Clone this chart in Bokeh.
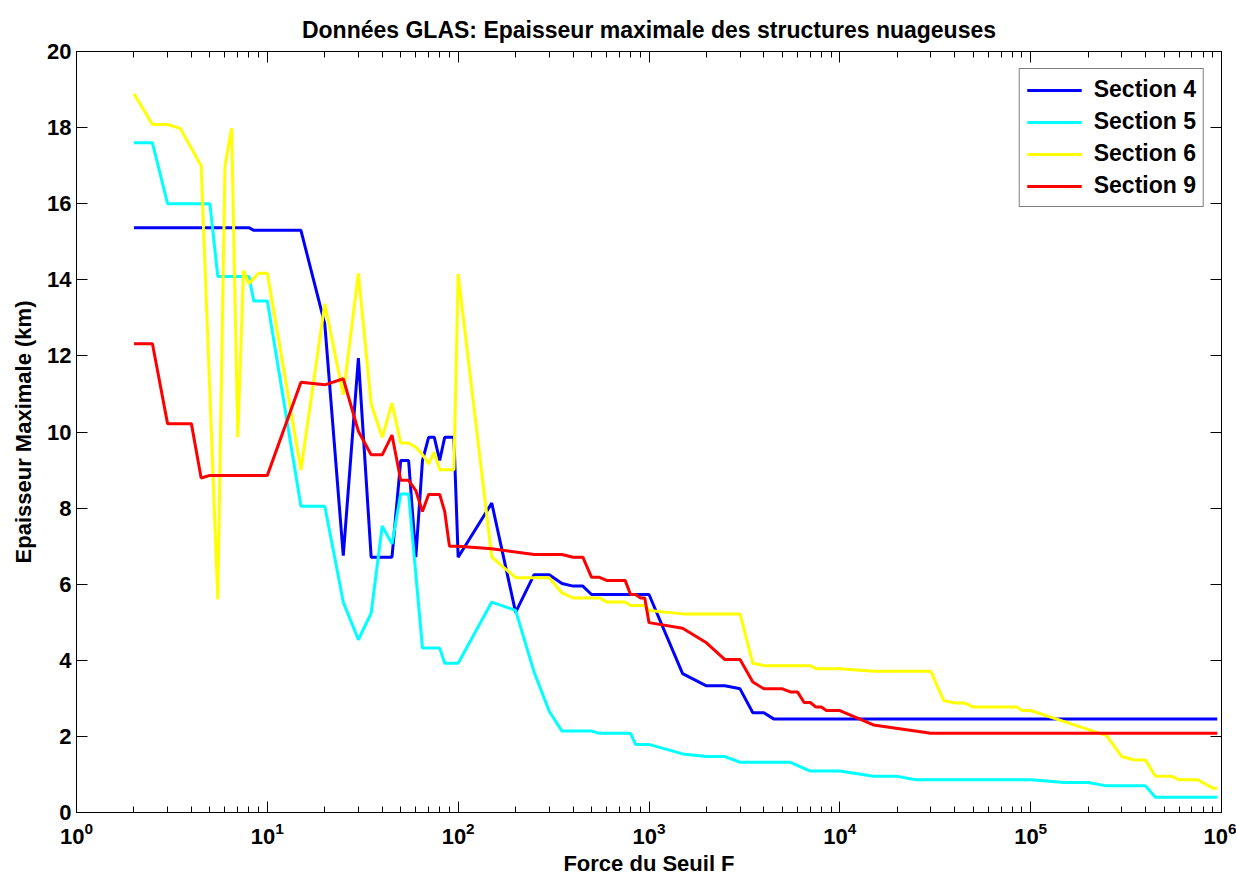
from bokeh.plotting import figure
from bokeh.models import LogAxis, LinearAxis, FixedTicker, LogTicker, Legend, LegendItem, CustomJSTickFormatter
from bokeh.embed import file_html
from bokeh.resources import INLINE

TITLE = "Données GLAS: Epaisseur maximale des structures nuageuses"
XLABEL = "Force du Seuil F"
YLABEL = "Epaisseur Maximale (km)"
SERIES_NAMES = ["Section 4", "Section 5", "Section 6", "Section 9"]
Y_TICKS = [0, 2, 4, 6, 8, 10, 12, 14, 16, 18, 20]

# Section 4 (blue)
F_S4 = [2, 8, 8.5, 15, 20, 25, 30, 35, 45, 50, 55, 60, 65, 70, 75, 80, 85, 95, 100, 150,
        200, 250, 300, 350, 400, 450, 500, 1000, 1500, 2000, 2500, 3000, 3500, 4000, 4500, 950000]
V_S4 = [15.37, 15.37, 15.30, 15.30, 12.84, 6.75, 11.94, 6.71, 6.71, 9.25, 9.25, 6.71, 9.25, 9.86, 9.86, 9.25, 9.86, 9.86, 6.71, 8.13,
        5.26, 6.25, 6.25, 6.02, 5.95, 5.95, 5.73, 5.73, 3.65, 3.33, 3.33, 3.25, 2.62, 2.62, 2.46, 2.46]

# Section 5 (cyan)
F_S5 = [2, 2.5, 3, 5, 5.5, 8, 8.5, 10, 15, 20, 25, 30, 35, 40, 45, 50, 55, 65, 80, 85,
        100, 150, 200, 250, 300, 350, 500, 550, 800, 850, 1000, 1500, 2000, 2500, 3000, 5500, 7000, 10000, 15000, 20000,
        25000, 100000, 150000, 200000, 250000, 400000, 450000, 950000]
V_S5 = [17.6, 17.6, 16.0, 16.0, 14.09, 14.09, 13.44, 13.44, 8.05, 8.05, 5.53, 4.54, 5.24, 7.53, 7.06, 8.37, 8.37, 4.32, 4.32, 3.92,
        3.92, 5.53, 5.31, 3.69, 2.66, 2.14, 2.14, 2.08, 2.08, 1.79, 1.79, 1.54, 1.47, 1.47, 1.32, 1.32, 1.09, 1.09, 0.95, 0.95,
        0.86, 0.86, 0.79, 0.79, 0.70, 0.70, 0.40, 0.40]

# Section 6 (yellow)
F_S6 = [2, 2.5, 3, 3.5, 4.5, 5.5, 6, 6.5, 7, 7.5, 8, 9, 10, 15, 20, 25, 30, 35, 40, 45,
        50, 55, 60, 65, 70, 75, 80, 95, 100, 150, 200, 300, 350, 400, 550, 600, 750, 800, 950, 1000,
        1500, 3000, 3500, 4000, 7000, 7500, 10000, 15000, 30000, 35000, 40000, 45000, 50000, 85000, 90000,
        100000, 150000, 250000, 300000, 350000, 400000, 450000, 550000, 600000, 750000, 900000, 950000]
V_S6 = [18.89, 18.08, 18.08, 17.98, 17.0, 5.6, 17.0, 17.98, 9.86, 14.24, 13.9, 14.17, 14.17, 9.0, 13.37, 10.98, 14.17, 10.74, 9.86, 10.76,
        9.71, 9.71, 9.60, 9.41, 9.16, 9.47, 9.01, 9.01, 14.15, 6.71, 6.17, 6.17, 5.77, 5.64, 5.64, 5.53, 5.53, 5.44, 5.44, 5.31,
        5.22, 5.22, 3.92, 3.86, 3.86, 3.78, 3.78, 3.71, 3.71, 2.94, 2.88, 2.88, 2.77, 2.77, 2.68,
        2.68, 2.39, 2.02, 1.47, 1.38, 1.38, 0.95, 0.95, 0.86, 0.86, 0.64, 0.64]

# Section 9 (red)
F_S9 = [2, 2.5, 3, 4, 4.5, 5, 10, 15, 20, 25, 30, 35, 40, 45, 50, 55, 60, 65, 70, 80,
        85, 90, 100, 150, 250, 350, 400, 450, 500, 550, 600, 750, 800, 850, 900, 950, 1000, 1500, 2000, 2500,
        3000, 3500, 4000, 5000, 5500, 6000, 6500, 7000, 7500, 8000, 8500, 10000, 15000, 30000, 950000]
V_S9 = [12.32, 12.32, 10.22, 10.22, 8.79, 8.86, 8.86, 11.31, 11.24, 11.40, 10.02, 9.40, 9.40, 9.92, 8.73, 8.73, 8.46, 7.91, 8.36, 8.36,
        7.91, 7.0, 7.0, 6.93, 6.78, 6.78, 6.71, 6.71, 6.18, 6.18, 6.10, 6.10, 5.73, 5.73, 5.64, 5.64, 4.99, 4.84, 4.46, 4.02,
        4.02, 3.43, 3.25, 3.25, 3.17, 3.17, 2.89, 2.89, 2.77, 2.77, 2.68, 2.68, 2.30, 2.08, 2.08]

COLORS = ["#0000FF", "#00FFFF", "#FFFF00", "#FF0000"]
FONT = "Liberation Sans"

p = figure(width=1236, height=878, x_axis_type="log", x_range=(1, 1e6), y_range=(0, 20),
           output_backend="svg", toolbar_location=None,
           min_border_left=76, min_border_right=15, min_border_top=51, min_border_bottom=66)
p.background_fill_color = "white"
p.border_fill_color = "white"
p.outline_line_color = "black"
p.grid.visible = False

p.title.text = TITLE
p.title.align = "center"
p.title.text_font = FONT
p.title.text_font_size = "23px"
p.title.text_font_style = "bold"
p.title.text_color = "black"
p.title.standoff = 18

xticker = LogTicker(desired_num_ticks=7, num_minor_ticks=10)
yticker = FixedTicker(ticks=Y_TICKS)

def style_axis(ax, labels=True):
    ax.axis_line_color = "black"
    ax.axis_line_width = 1
    ax.major_tick_line_color = "black"
    ax.minor_tick_line_color = "black"
    ax.major_tick_out = 0
    ax.minor_tick_out = 0
    ax.major_label_text_font = FONT
    ax.major_label_text_font_style = "bold"
    ax.major_label_text_color = "black"
    ax.axis_label_text_font = FONT
    ax.axis_label_text_font_style = "bold"
    ax.axis_label_text_color = "black"
    if not labels:
        ax.major_label_text_font_size = "0px"
        ax.major_label_standoff = 0
        ax.formatter = CustomJSTickFormatter(code="return ''")

# bottom x axis
xa = p.xaxis[0]
xa.ticker = xticker
style_axis(xa)
xa.major_tick_in = 11
xa.minor_tick_in = 6
xa.major_label_text_font_size = "22px"
xa.major_label_standoff = 9
xa.axis_label = XLABEL
xa.axis_label_text_font_size = "22px"
xa.axis_label_standoff = 4

# left y axis
ya = p.yaxis[0]
ya.ticker = yticker
style_axis(ya)
ya.major_tick_in = 11
ya.minor_tick_in = 0
ya.major_label_text_font_size = "22px"
ya.major_label_standoff = 5
ya.axis_label = YLABEL
ya.axis_label_text_font_size = "22px"
ya.axis_label_standoff = 8

# top and right axes (ticks only)
top = LogAxis(ticker=xticker)
style_axis(top, labels=False)
top.major_tick_in = 11
top.minor_tick_in = 6
p.add_layout(top, "above")

right = LinearAxis(ticker=yticker)
style_axis(right, labels=False)
right.major_tick_in = 11
right.minor_tick_in = 0
p.add_layout(right, "right")

data = [(F_S4, V_S4), (F_S5, V_S5), (F_S6, V_S6), (F_S9, V_S9)]
items = []
for (fx, vy), col, name in zip(data, COLORS, SERIES_NAMES):
    r = p.line(fx, vy, line_color=col, line_width=3)
    items.append(LegendItem(label=name, renderers=[r]))

legend = Legend(items=items, location="top_right")
legend.margin = 17
legend.border_line_color = "black"
legend.border_line_width = 1
legend.background_fill_color = "white"
legend.background_fill_alpha = 1
legend.label_text_font = FONT
legend.label_text_font_style = "bold"
legend.label_text_font_size = "23px"
legend.label_text_color = "black"
legend.glyph_width = 55
legend.glyph_height = 26
legend.label_standoff = 12
legend.padding = 7
legend.spacing = 5
p.add_layout(legend)

open("out.html", "w").write(file_html(p, INLINE))
